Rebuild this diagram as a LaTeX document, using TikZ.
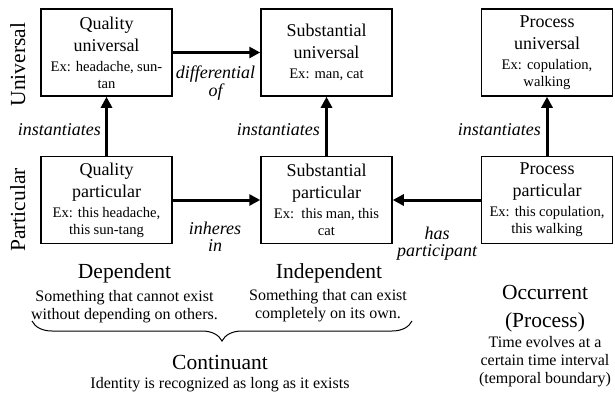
\documentclass[tikz,border=0pt]{standalone}
\usepackage{fontspec}
\setmainfont{Liberation Serif}
\usetikzlibrary{arrows.meta,decorations.pathreplacing}
\newcommand\fs[2]{\fontsize{#1}{#2}\selectfont}
\newcommand\bxt[2]{{\fs{18}{22}#1\par}\vskip 3pt{\fs{14.6}{17}#2\par}}
\begin{document}
\begin{tikzpicture}[x=1pt,y=1pt,
  box/.style={draw, line width=1.5pt, minimum width=131pt, minimum height=87pt,
    text width=127pt, inner sep=2pt, align=center},
  conn/.style={line width=3pt, -{Triangle[length=11pt,width=11pt]}},
  lbl/.style={font={\fs{18}{14}\itshape}, align=center, inner sep=0pt},
  lblb/.style={font={\fs{18}{17}\itshape}, align=center, inner sep=0pt},
  axis/.style={font={\fs{21.5}{26}}, rotate=90, anchor=base, inner sep=0pt},
  head/.style={font={\fs{21.5}{28}}, align=center, inner sep=0pt},
  desc/.style={font={\fs{16}{18}}, align=center, inner sep=0pt}]
\useasboundingbox (0,0) rectangle (615,-399);

\node[box] (qu) at (106.5,-52.5) {\bxt{Quality\\universal}{Ex: headache, sun-\\tan}};
\node[box] (su) at (326.5,-52.5) {\bxt{Substantial\\universal}{Ex: man, cat}};
\node[box] (pu) at (547,-52.5) {\bxt{Process\\universal}{Ex: copulation,\\walking}};
\node[box] (qp) at (106.5,-200) {\bxt{Quality\\particular}{Ex: this headache,\\this sun-tang}};
\node[box] (sp) at (326.5,-200) {\bxt{Substantial\\particular}{Ex:\enspace this man, this\\cat}};
\node[box] (pp) at (547,-200) {\bxt{Process\\particular}{Ex: this copulation,\\this walking}};

\draw[conn] (qu) -- (su);
\draw[conn] (qp) -- (sp);
\draw[conn] (pp) -- (sp);
\draw[conn] (qp) -- (qu);
\draw[conn] (sp) -- (su);
\draw[conn] (pp) -- (pu);

\node[lbl] (ldiff) at (215.5,-83) {differential\\of};
\node[lblb] (linh) at (215,-237) {inheres\\in};
\node[lblb] (lhas) at (437,-244) {has\\participant};
\node[lbl, anchor=east] (li1) at (101,-130) {instantiates};
\node[lbl, anchor=east] (li2) at (320,-130) {instantiates};
\node[lbl, anchor=east] (li3) at (541,-130) {instantiates};

\node[axis] (uni) at (25,-64.5) {Universal};
\node[axis] (par) at (25,-210) {Particular};

\node[head] (dep) at (124.5,-273) {Dependent};
\node[desc] (depd) at (124.5,-306.5) {Something that cannot exist\\without depending on others.};
\node[head] (ind) at (329,-273) {Independent};
\node[desc] (indd) at (328,-306) {Something that can exist\\completely on its own.};
\coordinate (bl) at (32,-321);
\coordinate (br) at (412,-321);
\draw[decorate, decoration={brace, mirror, amplitude=20pt}, line width=1pt] (bl) -- (br);
\node[head] (cont) at (220,-362) {Continuant};
\node[desc] (contd) at (220,-385) {Identity is recognized as long as it exists};
\node[head] (occ) at (545,-309) {Occurrent\\(Process)};
\node[desc] (occd) at (545,-362) {Time evolves at a\\certain time interval\\(temporal boundary)};
\end{tikzpicture}
\end{document}
